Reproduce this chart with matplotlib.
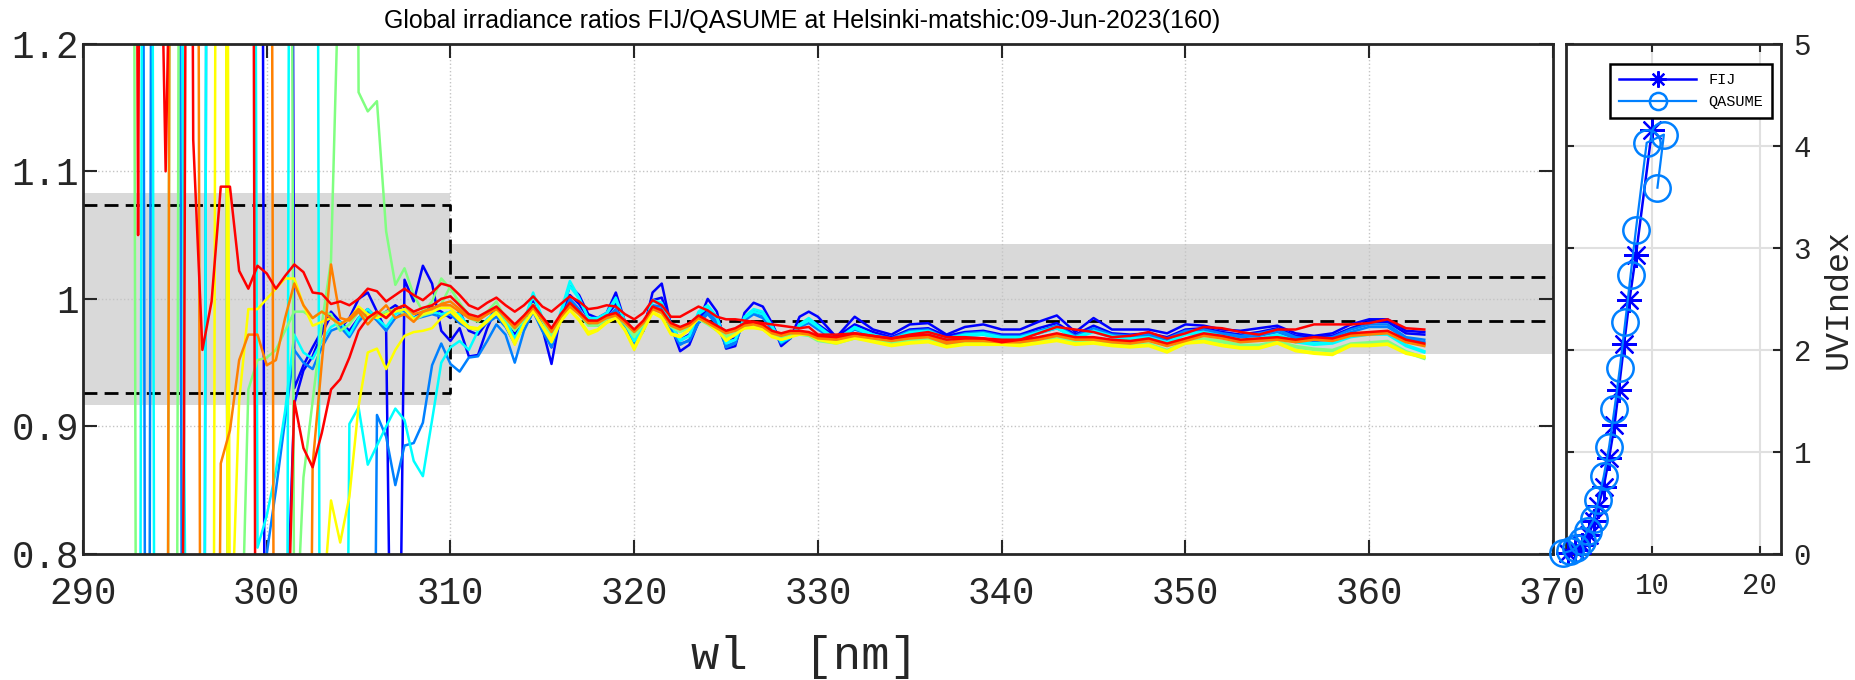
import numpy as np
import matplotlib
matplotlib.use('Agg')
import matplotlib.pyplot as plt

plt.rcParams['font.family'] = ['Liberation Mono', 'DejaVu Sans Mono']

# wavelength grid of the ratio spectra [nm]
wl = np.concatenate([np.arange(292.5, 330.25, 0.5), np.arange(331, 364, 1.0)])

# ratios FIJ/QASUME x1000, one list per spectrum (3000 / 0 = off scale)
r_blue1 = [3000, 3000, 3000, 3000, 3000, 3000, 3000, 3000, 3000, 3000, 3000, 3000, 3000, 3000, 3000,
           0, 0, 700, 918, 944, 955, 973, 987, 977, 985, 1000, 1005, 990, 975, 400, 1015, 998, 1026, 1012, 975,
           967, 977, 955, 956, 977, 993, 982, 967, 984, 998,
           977, 949, 988, 1010, 1003, 988, 985, 989, 1005, 982,
           964, 975, 1005, 1012, 979, 959, 964, 982, 1000, 990,
           961, 963, 989, 997, 994, 981, 963, 969, 986, 990, 986,
           970, 986, 976, 972, 980, 981, 972, 978, 980, 976,
           976, 982, 987, 974, 985, 976, 976, 976, 973, 980,
           979, 976, 975, 977, 979, 973, 971, 973, 980, 984, 984, 975, 974]
r_blue2 = [3000, 3000, 3000, 3000, 3000, 3000, 3000, 3000, 3000, 3000, 3000, 3000, 3000, 3000, 3000, 3000, 3000, 3000,
           930, 948, 962, 975, 990, 982, 975, 985, 992, 985, 990, 995, 990, 985, 990, 994, 990,
           985, 990, 975, 972, 982, 993, 985, 972, 985, 996,
           980, 962, 987, 1003, 996, 985, 983, 987, 996, 982,
           970, 978, 999, 1001, 980, 968, 972, 984, 992, 985,
           968, 969, 985, 990, 988, 980, 967, 970, 980, 984, 980,
           970, 980, 974, 970, 976, 977, 971, 974, 975, 972,
           972, 977, 981, 972, 979, 973, 972, 973, 970, 976,
           977, 974, 972, 974, 977, 971, 970, 971, 977, 982, 982, 973, 972]
r_dodger1 = [3000, 3000, 0, 0, 0, 0, 0, 0, 0, 0, 0, 0, 0, 0, 0,
             800, 850, 905, 960, 950, 945, 962, 975, 978, 970, 982, 990, 983, 975, 985, 990, 984, 986, 988, 986,
             988, 981, 977, 976, 981, 986, 978, 965, 980, 993,
             975, 962, 984, 1000, 992, 980, 980, 985, 992, 978,
             966, 976, 995, 994, 976, 964, 968, 982, 990, 982,
             962, 965, 984, 990, 987, 978, 965, 970, 980, 984, 978,
             968, 978, 972, 969, 975, 976, 969, 973, 974, 971,
             971, 975, 979, 971, 977, 972, 971, 972, 969, 975,
             976, 973, 971, 973, 976, 970, 968, 970, 976, 980, 980, 970, 968]
r_dodger2 = [0, 0, 0, 3000, 3000, 3000, 0, 0, 0, 3000, 3000, 0, 0, 0, 0, 0, 0, 0, 0, 0, 0, 0, 0, 0, 0, 0, 0,
             909, 892, 854, 885, 887, 903, 948, 965,
             949, 943, 954, 955, 967, 980, 972, 950, 975, 990,
             975, 964, 984, 998, 990, 980, 979, 984, 990, 977,
             965, 975, 993, 992, 976, 965, 967, 981, 988, 980,
             963, 966, 983, 988, 985, 976, 966, 969, 978, 981, 976,
             967, 976, 971, 968, 973, 974, 968, 971, 972, 970,
             970, 973, 977, 970, 975, 971, 970, 971, 968, 973,
             974, 972, 970, 971, 974, 969, 967, 968, 974, 978, 978, 969, 966]
r_cyan1 = [0, 0, 3000, 3000, 3000, 3000, 895, 0, 0, 3000, 3000, 3000, 3000, 3000, 805,
           830, 865, 912, 972, 958, 953, 967, 978, 982, 972, 985, 992, 985, 978, 988, 992, 985, 988, 990, 988,
           990, 988, 978, 976, 984, 990, 983, 969, 982, 1005,
           985, 966, 990, 1014, 1001, 985, 985, 989, 1001, 982,
           967, 977, 999, 997, 980, 967, 971, 990, 995, 986,
           965, 968, 986, 992, 990, 979, 966, 970, 980, 985, 979,
           968, 978, 972, 968, 974, 975, 969, 972, 973, 970,
           970, 974, 978, 970, 975, 971, 969, 970, 966, 973,
           974, 971, 968, 969, 972, 967, 965, 966, 971, 973, 973, 964, 959]
r_cyan2 = [3000, 3000, 3000, 0, 0, 0, 0, 0, 0, 0, 0, 0, 0, 0, 0, 0, 0, 0, 3000, 3000, 3000, 0, 0, 0,
           902, 915, 870, 885, 900, 914, 905, 873, 861, 905, 950,
           962, 967, 960, 975, 984, 990, 983, 969, 982, 1003,
           985, 966, 988, 1010, 1000, 985, 984, 988, 999, 982,
           967, 977, 998, 996, 980, 968, 971, 988, 993, 985,
           966, 968, 985, 990, 988, 978, 967, 970, 979, 983, 978,
           967, 977, 971, 968, 973, 974, 968, 971, 972, 969,
           969, 973, 977, 969, 974, 970, 968, 969, 965, 972,
           973, 970, 967, 968, 971, 966, 964, 965, 970, 972, 972, 963, 958]
r_green1 = [3000, 0, 0, 0, 0, 0, 3000, 3000, 3000, 3000, 3000, 0, 650,
            929, 952, 954, 960, 975, 990, 990, 985, 990, 988, 975, 980, 990, 984, 987, 990, 992, 988, 983, 987, 989, 996,
            1010, 995, 985, 982, 990, 998, 984, 975, 984, 996,
            983, 970, 985, 996, 988, 979, 979, 984, 987, 980,
            970, 980, 992, 989, 978, 974, 977, 984, 980, 975,
            970, 972, 978, 980, 977, 971, 968, 971, 972, 971, 967,
            965, 969, 967, 965, 967, 968, 964, 966, 966, 965,
            965, 967, 969, 966, 966, 964, 963, 964, 959, 965,
            968, 966, 963, 963, 966, 962, 960, 959, 964, 965, 966, 958, 953]
r_green2 = [0, 0, 0, 0, 0, 3000, 3000, 3000, 3000, 3000, 3000, 3000, 3000, 3000, 3000, 3000, 3000, 3000,
            700, 860, 920, 980, 1030, 1300, 3000, 1162, 1147, 1155, 1053, 1011, 1024, 1003, 990, 998, 1016,
            1008, 997, 987, 984, 989, 994, 985, 977, 985, 995,
            984, 972, 986, 996, 989, 981, 980, 985, 988, 981,
            972, 981, 993, 990, 979, 975, 978, 985, 981, 976,
            971, 973, 979, 981, 978, 972, 969, 972, 973, 972, 968,
            966, 970, 968, 966, 968, 969, 965, 967, 967, 966,
            966, 968, 970, 967, 967, 965, 964, 965, 960, 966,
            969, 967, 964, 964, 967, 963, 961, 960, 965, 966, 967, 959, 954]
r_yellow1 = [3000, 3000, 3000, 3000, 3000, 3000, 3000, 3000, 3000, 3000, 3000, 700,
             920, 992, 992, 1000, 1008, 1016, 1016, 995, 979, 982, 985, 980, 984, 994, 988, 985, 988, 990, 992, 984, 988, 990, 993,
             993, 985, 978, 977, 983, 990, 980, 964, 980, 990,
             978, 966, 982, 991, 983, 972, 975, 981, 985, 975,
             960, 975, 989, 985, 972, 970, 976, 986, 982, 976,
             967, 972, 977, 977, 976, 970, 968, 970, 973, 973, 969,
             966, 970, 967, 964, 966, 967, 963, 965, 965, 965,
             964, 966, 968, 965, 966, 964, 963, 964, 959, 966,
             967, 964, 962, 962, 966, 960, 958, 957, 964, 964, 965, 958, 955]
r_yellow2 = [0, 0, 0, 0, 0, 0, 0, 0, 0, 0, 3000, 0, 0, 0, 0, 0, 0, 0, 0, 0, 0,
             750, 842, 809, 845, 916, 958, 961, 945, 960, 971, 974, 975, 977, 985,
             990, 983, 977, 976, 982, 989, 979, 966, 980, 991,
             979, 968, 983, 992, 984, 974, 976, 982, 985, 976,
             962, 976, 990, 986, 973, 971, 976, 985, 981, 975,
             968, 972, 977, 978, 976, 971, 968, 970, 972, 972, 968,
             965, 969, 966, 963, 965, 966, 962, 964, 964, 964,
             963, 965, 967, 964, 965, 963, 962, 963, 958, 965,
             966, 963, 961, 961, 965, 959, 957, 956, 963, 963, 964, 957, 954]
r_orange1 = [0, 0, 0, 0, 0, 3000, 3000, 3000, 3000, 3000, 3000, 3000, 3000, 3000, 3000, 3000, 0, 0, 0, 0,
             870, 950, 1027, 985, 983, 990, 980, 988, 995, 985, 988, 982, 990, 992, 996,
             998, 992, 986, 984, 988, 992, 986, 978, 985, 994,
             985, 974, 986, 995, 989, 982, 982, 986, 988, 982,
             975, 982, 993, 990, 980, 977, 980, 986, 982, 978,
             974, 976, 980, 981, 979, 974, 972, 974, 974, 973, 970,
             969, 972, 970, 968, 970, 971, 966, 968, 968, 967,
             967, 969, 972, 969, 969, 967, 966, 968, 964, 968,
             972, 970, 967, 968, 969, 967, 969, 968, 972, 973, 974, 967, 964]
r_orange2 = [3000, 3000, 3000, 3000, 3000, 3000, 3000, 3000, 0, 0,
             871, 897, 952, 972, 972, 948, 952, 985, 1012, 995, 985, 990, 985, 980, 985, 992, 985, 990, 985, 992,
             995, 988, 990, 993, 995,
             995, 990, 985, 983, 988, 993, 985, 977, 985, 993,
             984, 975, 986, 994, 988, 981, 981, 985, 987, 981,
             974, 981, 992, 989, 979, 976, 979, 985, 981, 977,
             973, 975, 979, 980, 978, 973, 971, 973, 973, 972, 969,
             968, 971, 969, 967, 969, 970, 965, 967, 967, 966,
             966, 968, 971, 968, 968, 966, 965, 967, 963, 967,
             971, 969, 966, 967, 968, 966, 968, 967, 971, 972, 973, 966, 963]
r_red1 = [3000, 1050, 3000, 1500, 1100, 1500, 3000, 1125,
          960, 998, 1088, 1088, 1022, 1008, 1026, 1020, 1008, 1018, 1027, 1021, 1005, 1004, 996, 998, 995, 1000,
          1008, 1006, 998, 1003, 1008, 1003, 999, 1005, 1012,
          1010, 1003, 995, 992, 997, 1001, 995, 990, 995, 1002,
          994, 990, 996, 1002, 998, 992, 993, 995, 994, 988,
          984, 989, 999, 995, 986, 986, 990, 994, 991, 986,
          984, 984, 983, 982, 981, 980, 979, 978, 977, 978, 972,
          972, 973, 971, 969, 972, 974, 970, 970, 969, 966,
          968, 973, 978, 976, 974, 970, 971, 974, 969, 973,
          978, 977, 974, 972, 976, 976, 980, 980, 980, 981, 984, 977, 976]
r_red2 = [0, 0, 0, 0, 0, 0, 895, 3000, 3000, 3000, 3000, 3000, 3000, 3000, 0, 0, 0,
          650, 920, 883, 868, 895, 929, 937, 954, 975, 985, 990, 985, 992, 995, 990, 993, 995, 1000,
          1002, 995, 988, 986, 990, 994, 987, 980, 987, 995,
          986, 977, 988, 997, 990, 983, 983, 987, 989, 983,
          976, 983, 994, 991, 981, 978, 981, 987, 983, 979,
          975, 977, 981, 982, 980, 975, 973, 975, 975, 974, 971,
          970, 973, 971, 969, 971, 972, 968, 969, 969, 968,
          968, 970, 973, 970, 970, 968, 967, 969, 965, 969,
          973, 971, 968, 969, 970, 968, 970, 969, 973, 974, 975, 968, 965]

spectra = [r_blue1, r_blue2, r_dodger1, r_dodger2, r_cyan1, r_cyan2, r_green1, r_green2,
           r_yellow1, r_yellow2, r_orange1, r_orange2, r_red1, r_red2]
colours = [(0, 0, 1), (0, 0, 1), (0, 0.5, 1), (0, 0.5, 1), (0, 1, 1), (0, 1, 1), (0.5, 1, 0.5), (0.5, 1, 0.5),
           (1, 1, 0), (1, 1, 0), (1, 0.5, 0), (1, 0.5, 0), (1, 0, 0), (1, 0, 0)]

# tolerance band and limits
band_wl = [290, 310, 370]
band_upper = [1.083, 1.043, 1.043]
band_lower = [0.917, 0.957, 0.957]
limit_upper = [1.074, 1.017, 1.017]
limit_lower = [0.926, 0.983, 0.983]

# UV index time series
uv_fij_t = [2.2, 2.8, 3.5, 4.1, 4.6, 5.0, 5.5, 6.0, 6.5, 6.9, 7.4, 7.9, 8.5, 10.0]
uv_fij = [0.01, 0.04, 0.09, 0.19, 0.32, 0.47, 0.66, 0.94, 1.26, 1.61, 2.06, 2.49, 2.93, 4.16]
uv_qas_t = [1.75, 2.4, 2.9, 3.5, 4.0, 4.6, 5.0, 5.5, 6.0, 6.5, 7.0, 7.5, 8.0, 8.5, 9.5, 11.1, 10.5]
uv_qas = [0.01, 0.03, 0.06, 0.13, 0.23, 0.34, 0.53, 0.76, 1.05, 1.42, 1.82, 2.27, 2.73, 3.18, 4.03, 4.11, 3.59]

title = 'Global irradiance ratios FIJ/QASUME at Helsinki-matshic:09-Jun-2023(160)'

fig = plt.figure(figsize=(18.56, 6.8), dpi=100)
ax = fig.add_axes([0.0447, 0.1853, 0.7920, 0.7503])
ax2 = fig.add_axes([0.8438, 0.1853, 0.1158, 0.7503])

frame = '#262626'

# main panel
ax.fill_between(band_wl, band_lower, band_upper, step='post', color='#d9d9d9', lw=0, zorder=1)
for lim in (limit_upper, limit_lower):
    ax.plot(band_wl, lim, drawstyle='steps-post', color='k', ls=(0, (5, 2.6)), lw=2.0, zorder=1.8)
for vals, col in zip(spectra, colours):
    ax.plot(wl, np.array(vals) / 1000.0, color=col, lw=1.8, zorder=2)

ax.set_xlim(290, 370)
ax.set_ylim(0.8, 1.2)
ax.set_xticks(np.arange(290, 371, 10))
ax.set_yticks([0.8, 0.9, 1.0, 1.1, 1.2], ['0.8', '0.9', '1', '1.1', '1.2'])
ax.set_axisbelow('line')
ax.grid(True, ls=':', color='#c4c4c4', lw=1.0)
ax.tick_params(direction='in', length=10, width=1.5, top=True, right=True,
               labelsize=27, colors=frame)
ax.tick_params(axis='x', pad=16)
ax.tick_params(axis='y', pad=3)
for sp in ax.spines.values():
    sp.set_linewidth(2)
    sp.set_color(frame)

# UV index panel, asterisk marker like the original
asterisk = (8, 2, 0)
ax2.plot(uv_fij_t, uv_fij, color=(0, 0, 1), marker=asterisk, ms=18, mew=1.6, lw=1.8,
         label='FIJ', clip_on=False, zorder=3)
ax2.plot(uv_qas_t, uv_qas, color=(0, 0.5, 1), marker='o', ms=19, mfc='none', mew=1.8, lw=1.6,
         label='QASUME', clip_on=False, zorder=3)
ax2.set_xlim(2, 22)
ax2.set_ylim(0, 5)
ax2.set_xticks([10, 20])
ax2.set_yticks([0, 1, 2, 3, 4, 5])
ax2.grid(True, color='#e0e0e0', lw=1.5)
ax2.set_axisbelow(True)
ax2.yaxis.tick_right()
ax2.yaxis.set_label_position('right')
ax2.tick_params(direction='in', length=6, width=1.5, top=True, left=True, right=True,
                labelleft=False, labelright=True, labelsize=21, colors=frame)
ax2.tick_params(axis='x', pad=13)
ax2.tick_params(axis='y', pad=9)
ax2.set_ylabel('UVIndex', fontsize=24, color=frame, labelpad=8)
for sp in ax2.spines.values():
    sp.set_linewidth(2)
    sp.set_color(frame)
leg = ax2.legend(loc='upper right', bbox_to_anchor=(0.958, 0.960), borderaxespad=0,
                 fontsize=11, handlelength=5, markerscale=0.65, fancybox=False,
                 edgecolor='k', framealpha=1, borderpad=0.6)
leg.get_frame().set_linewidth(1.8)

fig.text(0.432, 0.969, title, ha='center', va='center', fontsize=18,
         family='Liberation Sans', color='k')
fig.text(0.4337, 0.034, 'wl  [nm]', ha='center', va='center', fontsize=34, color=frame)

fig.savefig('out.png', dpi=100)
